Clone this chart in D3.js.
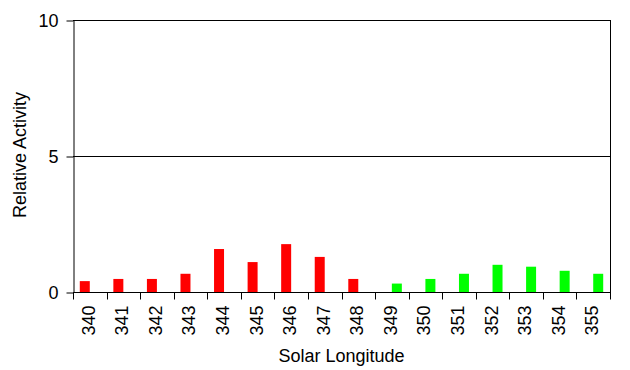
<!DOCTYPE html>
<meta charset="utf-8">
<head>
  <title>Relative activity by solar longitude</title>
</head>

<style>
body {
  margin: 0;
  background: #fff;
  font-family: Arial, "Liberation Sans", sans-serif;
}
</style>

<body>
  <div id="content"></div>

  <script src="https://cdnjs.cloudflare.com/ajax/libs/d3/7.8.5/d3.min.js"></script>

  <script>
// categories on the x axis
var longitudes = ['340', '341', '342', '343', '344', '345', '346', '347',
  '348', '349', '350', '351', '352', '353', '354', '355'];

// red series (first part), null where there's no bar
var redValues = [0.40, 0.48, 0.48, 0.67, 1.58, 1.10, 1.76, 1.29,
  0.48, null, null, null, null, null, null, null];

// green series (second part)
var greenValues = [null, null, null, null, null, null, null, null,
  null, 0.31, 0.48, 0.67, 1.00, 0.93, 0.78, 0.67];

var yTicks = [0, 5, 10];

var width = 630, height = 370;
var margin = {top: 20, right: 20, bottom: 78, left: 73};
var fontSize = '18px';

var svg = d3.select('#content').append('svg')
  .attr('width', width)
  .attr('height', height);

var x = d3.scaleBand()
  .domain(longitudes)
  .range([margin.left, 610]);

// two series side by side in each band
var xSeries = d3.scaleBand()
  .domain(['red', 'green'])
  .range([0, x.bandwidth()])
  .paddingOuter(0.68);

var y = d3.scaleLinear()
  .domain([0, 10])
  .range([292, margin.top]);

var series = [
  {key: 'red', color: '#ff0000', values: redValues},
  {key: 'green', color: '#00ff00', values: greenValues}
];

// bars
series.forEach(function(s) {
  svg.append('g')
    .selectAll('rect')
    .data(s.values.map(function(v, i) { return {cat: longitudes[i], v: v}; })
      .filter(function(d) { return d.v != null; }))
    .enter().append('rect')
      .attr('x', function(d) { return x(d.cat) + xSeries(s.key); })
      .attr('width', xSeries.bandwidth())
      .attr('y', function(d) { return y(d.v); })
      .attr('height', function(d) { return y(0) - y(d.v); })
      .attr('fill', s.color);
});

// gridline at 5 and the frame
svg.append('g')
  .selectAll('line')
  .data(yTicks.filter(function(t) { return t > 0; }))
  .enter().append('line')
    .attr('x1', margin.left)
    .attr('x2', 610)
    .attr('y1', function(d) { return Math.round(y(d)) + 0.5; })
    .attr('y2', function(d) { return Math.round(y(d)) + 0.5; })
    .attr('stroke', '#000');

svg.append('line')
  .attr('x1', 610.5).attr('x2', 610.5)
  .attr('y1', y(10)).attr('y2', y(0))
  .attr('stroke', '#000');

// y axis
var yAxis = svg.append('g')
  .attr('transform', 'translate(' + (margin.left + 0.5) + ',0.5)')
  .call(d3.axisLeft(y).tickValues(yTicks).tickSize(7).tickSizeOuter(0).tickPadding(8));

yAxis.select('.domain').attr('stroke', '#000');
yAxis.selectAll('text')
  .attr('font-size', fontSize)
  .attr('font-family', 'Arial, "Liberation Sans", sans-serif')
  .attr('fill', '#000');

// x axis: ticks sit on the band edges
var xAxis = svg.append('g')
  .attr('transform', 'translate(0,' + (Math.round(y(0)) + 0.5) + ')');

xAxis.append('line')
  .attr('x1', margin.left)
  .attr('x2', 611)
  .attr('stroke', '#000');

var edges = longitudes.map(function(c) { return x(c); }).concat([x.range()[1]]);
xAxis.selectAll('line.tick')
  .data(edges)
  .enter().append('line')
    .attr('class', 'tick')
    .attr('x1', function(d) { return Math.round(d) + 0.5; })
    .attr('x2', function(d) { return Math.round(d) + 0.5; })
    .attr('y1', 0)
    .attr('y2', 7)
    .attr('stroke', '#000');

xAxis.selectAll('text')
  .data(longitudes)
  .enter().append('text')
    .attr('transform', function(d) {
      return 'translate(' + (x(d) + x.bandwidth() / 2 + 5) + ',13) rotate(-90)';
    })
    .attr('text-anchor', 'end')
    .attr('font-size', fontSize)
    .attr('fill', '#000')
    .text(function(d) { return d; });

// axis titles
svg.append('text')
  .attr('x', (margin.left + 610) / 2)
  .attr('y', 362)
  .attr('text-anchor', 'middle')
  .attr('font-size', fontSize)
  .text('Solar Longitude');

svg.append('text')
  .attr('transform', 'translate(26,155) rotate(-90)')
  .attr('text-anchor', 'middle')
  .attr('font-size', fontSize)
  .text('Relative Activity');
  </script>
</body>
</html>
